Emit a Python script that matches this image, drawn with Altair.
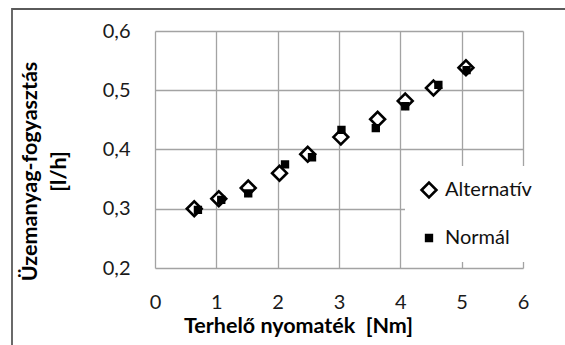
import altair as alt
import pandas as pd

# Measured fuel consumption vs. load torque for the two fuel types
series_names = ["Alternatív", "Normál"]
torque_alt = [0.64, 1.04, 1.52, 2.03, 2.49, 3.03, 3.63, 4.08, 4.54, 5.07]
fuel_alt = [0.300, 0.317, 0.335, 0.360, 0.392, 0.421, 0.451, 0.482, 0.504, 0.538]
torque_norm = [0.70, 1.08, 1.52, 2.12, 2.56, 3.04, 3.60, 4.08, 4.62, 5.08]
fuel_norm = [0.298, 0.315, 0.326, 0.375, 0.387, 0.433, 0.436, 0.473, 0.509, 0.534]

x_ticks = [0, 1, 2, 3, 4, 5, 6]
y_ticks = [0.2, 0.3, 0.4, 0.5, 0.6]

df = pd.concat([
    pd.DataFrame({"torque": torque_alt, "fuel": fuel_alt, "series": series_names[0]}),
    pd.DataFrame({"torque": torque_norm, "fuel": fuel_norm, "series": series_names[1]}),
], ignore_index=True)

FONT = "Lato"
GRID = "#a3a3a3"
NBSP = "\u00a0"

points = alt.Chart(df).mark_point(
    filled=True, strokeWidth=2.6, opacity=1, strokeJoin="miter"
).encode(
    x=alt.X("torque:Q",
            scale=alt.Scale(domain=[0, 6], nice=False, zero=False),
            axis=alt.Axis(values=x_ticks,
                          title="Terhelő nyomaték" + NBSP + NBSP + "[Nm]",
                          titleX=143, titleY=47, titleBaseline="top",
                          labelPadding=24, labelFlush=False)),
    y=alt.Y("fuel:Q",
            scale=alt.Scale(domain=[0.2, 0.6], nice=False, zero=False),
            axis=alt.Axis(values=y_ticks,
                          labelExpr="replace(format(datum.value, '.1f'), '.', ',')",
                          title=["Üzemanyag-fogyasztás", "[l/h]"],
                          titleX=-136, titleY=140, titleBaseline="top",
                          titleAngle=270, titleLineHeight=29,
                          labelPadding=25, labelFlush=False)),
    shape=alt.Shape("series:N",
                    scale=alt.Scale(domain=series_names, range=["diamond", "square"]),
                    legend=alt.Legend(title=None)),
    fill=alt.Fill("series:N",
                  scale=alt.Scale(domain=series_names, range=["white", "black"]),
                  legend=alt.Legend(title=None)),
    stroke=alt.Stroke("series:N",
                      scale=alt.Scale(domain=series_names, range=["black", "black"]),
                      legend=alt.Legend(title=None)),
    size=alt.Size("series:N",
                  scale=alt.Scale(domain=series_names, range=[220, 33]),
                  legend=alt.Legend(title=None)),
    order=alt.Order("series:N"),
)

# Outer chart frame (runs past the right and bottom edges)
frame = alt.Chart(pd.DataFrame({"k": [0]})).mark_rect(
    fill=None, stroke="#5a5a5a", strokeWidth=1.8
).encode(
    x=alt.value(-143), x2=alt.value(700),
    y=alt.value(-22), y2=alt.value(500),
)

chart = alt.layer(frame, points).properties(
    width=368, height=237,
    padding={"left": 155, "top": 31, "right": 42, "bottom": 77},
    autosize=alt.AutoSizeParams(type="none"),
).configure_view(
    stroke=None
).configure_axis(
    grid=True, gridColor=GRID, gridWidth=1.3, gridOpacity=1,
    domain=False, ticks=False, tickSize=0,
    labelFont=FONT, labelFontSize=20, labelColor="#1a1a1a",
    titleFont=FONT, titleFontSize=21.5, titleFontWeight="bold", titleColor="black",
    titleAlign="center",
).configure_legend(
    orient="none", legendX=250, legendY=135,
    fillColor="white", padding=14, rowPadding=25,
    labelFont=FONT, labelFontSize=20, labelColor="#111111",
    symbolStrokeWidth=2.6, labelOffset=6,
)

chart.save("out.html", embed_options={"renderer": "svg", "actions": False})
